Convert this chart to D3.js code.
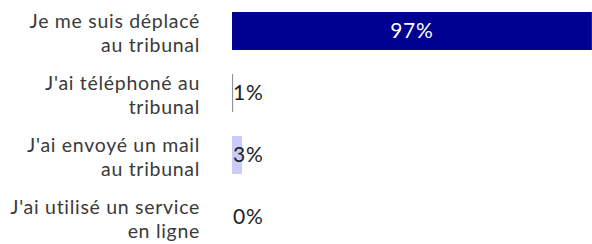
<!DOCTYPE html>
<html>
<head>
<meta charset="utf-8">
<script src="https://cdn.jsdelivr.net/npm/d3@7"></script>
<style>
  body { margin: 0; background: #fff; }
  svg { display: block; font-family: Lato, sans-serif; }
</style>
</head>
<body>
<svg id="chart" width="592" height="244"></svg>
<script>
// answers, two lines per label
const categories = [
    ['Je me suis déplacé', 'au tribunal'],
    ["J'ai téléphoné au", 'tribunal'],
    ["J'ai envoyé un mail", 'au tribunal'],
    ["J'ai utilisé un service", 'en ligne']
];
const values = [97, 0.3, 2.7, 0]; // percent
const valueLabels = ['97%', '1%', '3%', '0%'];
const barColors = ['#000091', '#929292', '#cacafb', '#cacafb'];

const svg = d3.select('#chart');

const x = d3.scaleLinear().domain([0, 100]).range([232, 603]);
const y = d3.scaleBand()
    .domain(d3.range(categories.length))
    .range([0, 248])
    .paddingInner(0.387)
    .paddingOuter(0.1935);

const rows = svg.selectAll('g.row')
    .data(values)
    .join('g')
    .attr('class', 'row');

rows.append('rect')
    .attr('x', x(0))
    .attr('y', (d, i) => y(i))
    .attr('width', d => x(d) - x(0))
    .attr('height', y.bandwidth())
    .style('fill', (d, i) => barColors[i]);

// value labels: inside the bar when it is wide, after the start otherwise
rows.append('text')
    .text((d, i) => valueLabels[i])
    .attr('x', d => d > 50 ? (x(0) + x(d)) / 2 : x(0) + 1)
    .attr('y', (d, i) => y(i) + y.bandwidth() / 2)
    .attr('dy', '0.35em')
    .attr('text-anchor', d => d > 50 ? 'middle' : 'start')
    .style('font-size', '21px')
    .style('letter-spacing', '0.8px')
    .style('fill', d => d > 50 ? '#ffffff' : '#222222');

// category labels
rows.append('text')
    .attr('text-anchor', 'end')
    .style('font-size', '19.5px')
    .style('letter-spacing', '0.7px')
    .style('fill', '#3a3a3a')
    .each(function(d, i) {
        const t = d3.select(this);
        const mid = y(i) + y.bandwidth() / 2 + 2;
        categories[i].forEach((line, k) => {
            t.append('tspan')
                .attr('x', 200)
                .attr('y', mid + (k - 0.5) * 24)
                .attr('dy', '0.35em')
                .text(line);
        });
    });
</script>
</body>
</html>
